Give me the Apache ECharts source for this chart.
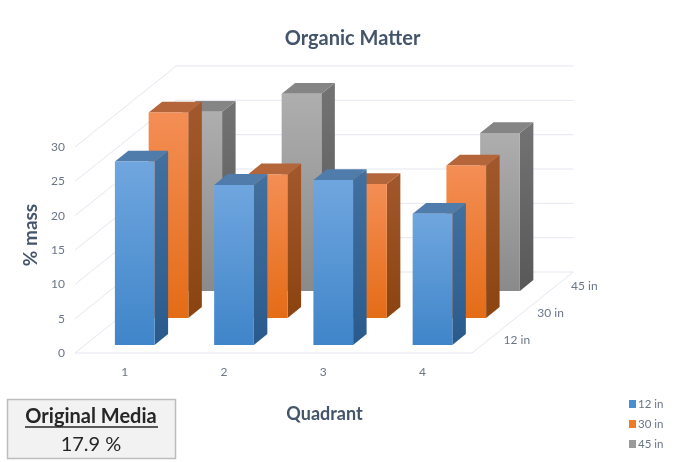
<!DOCTYPE html>
<html>
<head>
<meta charset="utf-8">
<style>html,body{margin:0;padding:0;background:#fff}#chart{width:674px;height:462px}</style>
<script src="https://cdn.jsdelivr.net/npm/echarts@6/dist/echarts.min.js"></script>
</head>
<body>
<div id="chart"></div>
<script>
// Organic matter (% mass) by quadrant and sampling depth
const quadrants = ['1', '2', '3', '4'];
const depths = ['12 in', '30 in', '45 in'];
const massTicks = [0, 5, 10, 15, 20, 25, 30];
const mass12in = [26.7, 23.3, 24.0, 19.1];
const mass30in = [29.9, 20.9, 19.5, 22.2];
const mass45in = [26.1, 28.7, null, 23.0];
const originalMedia = '17.9 %';

// Oblique projection: screen shift for one depth row, and bar proportions
const ROW_DX = 33.75, ROW_DY = -27;
const BAR_WIDTH = 0.4, BAR_DEPTH = 0.4;
const FONT = 'Lato, "Noto Sans", sans-serif';
const INK = '#44546a', TICK = '#6a7587', WALL = '#e4e7f0';

const palette = {
  '12 in': { front: ['#70a6df', '#3f85c9'], side: ['#42709f', '#2a5a8c'], top: '#4f7cab', key: '#4a8fd3' },
  '30 in': { front: ['#f48e55', '#e46c17'], side: ['#a2582c', '#8b4410'], top: '#b5653a', key: '#ee7b25' },
  '45 in': { front: ['#aeaeae', '#8a8a8a'], side: ['#737373', '#585858'], top: '#858585', key: '#9a9a9a' }
};

const vertical = (c) => ({ type: 'linear', x: 0, y: 0, x2: 0, y2: 1,
  colorStops: [{ offset: 0, color: c[0] }, { offset: 1, color: c[1] }] });

// One box: front face, side face and lid, pushed back to its depth row
function barRenderer(row, colors) {
  return function (params, api) {
    const value = api.value(1);
    if (value == null || isNaN(value)) return null;
    const band = api.size([1, 0])[0];
    const base = api.coord([api.value(0), 0]);
    const peak = api.coord([api.value(0), value]);
    const w = band * BAR_WIDTH;
    const shift = row + (1 - BAR_DEPTH) / 2;
    const x = base[0] - w / 2 + ROW_DX * shift;
    const yBottom = base[1] + ROW_DY * shift;
    const yTop = peak[1] + ROW_DY * shift;
    const dx = ROW_DX * BAR_DEPTH, dy = ROW_DY * BAR_DEPTH;
    return {
      type: 'group', silent: true,
      children: [
        { type: 'polygon', shape: { points: [[x + w, yTop], [x + w + dx, yTop + dy], [x + w + dx, yBottom + dy], [x + w, yBottom]] },
          style: { fill: vertical(colors.side) } },
        { type: 'polygon', shape: { points: [[x, yTop], [x + dx, yTop + dy], [x + w + dx, yTop + dy], [x + w, yTop]] },
          style: { fill: colors.top } },
        { type: 'rect', shape: { x: x, y: yTop, width: w, height: yBottom - yTop },
          style: { fill: vertical(colors.front) } }
      ]
    };
  };
}

// Left wall, back wall and floor edges, one run per value tick
function wallRenderer(params, api) {
  const band = api.size([1, 0])[0];
  const left = api.coord([0, api.value(0)]);
  const x0 = left[0] - band / 2, y0 = left[1];
  const x1 = x0 + band * quadrants.length;
  const bx = ROW_DX * depths.length, by = ROW_DY * depths.length;
  const children = [{
    type: 'polyline',
    shape: { points: [[x0, y0], [x0 + bx, y0 + by], [x1 + bx, y0 + by]] },
    style: { stroke: WALL, lineWidth: 1, fill: null }
  }];
  if (api.value(0) === 0) {
    children.push({
      type: 'polyline',
      shape: { points: [[x0, y0], [x1, y0], [x1 + bx, y0 + by]] },
      style: { stroke: WALL, lineWidth: 1, fill: null }
    });
  }
  return { type: 'group', silent: true, children: children };
}

// Depth axis labels along the right floor edge
function depthLabelRenderer(params, api) {
  const band = api.size([1, 0])[0];
  const origin = api.coord([quadrants.length - 1, 0]);
  const row = params.dataIndex;
  return {
    type: 'text', silent: true,
    style: {
      text: depths[row],
      x: origin[0] + band / 2 + ROW_DX * (row + 0.5) + 28,
      y: origin[1] + ROW_DY * (row + 0.5) + 0.5,
      align: 'center', verticalAlign: 'middle',
      font: '12px ' + FONT, fill: TICK
    }
  };
}

function barSeries(name, values, row) {
  return {
    type: 'custom', name: name,
    coordinateSystem: 'cartesian2d',
    encode: { x: 0, y: 1 },
    itemStyle: { color: palette[name].key },
    renderItem: barRenderer(row, palette[name]),
    data: values.map((v, i) => [i, v])
  };
}

const chart = echarts.init(document.getElementById('chart'), null, { renderer: 'canvas' });
chart.setOption({
  animation: false,
  backgroundColor: '#ffffff',
  textStyle: { fontFamily: FONT },
  title: {
    text: 'Organic Matter', left: 347.5, top: 24, textAlign: 'center',
    textStyle: { color: INK, fontFamily: FONT, fontWeight: 'bold', fontSize: 20 }
  },
  legend: {
    data: depths, orient: 'vertical', left: 624, top: 393,
    itemWidth: 7, itemHeight: 8, itemGap: 8, icon: 'rect',
    textStyle: { color: TICK, fontSize: 11.5, fontFamily: FONT, padding: [0, 0, 0, -3] }
  },
  grid: { left: 75, top: 147, width: 397, height: 206 },
  xAxis: {
    type: 'category', data: quadrants,
    name: 'Quadrant', nameLocation: 'middle', nameGap: 52,
    nameTextStyle: { color: INK, fontFamily: FONT, fontWeight: 'bold', fontSize: 18, padding: [0, 0, 0, 102] },
    axisLine: { show: false }, axisTick: { show: false },
    axisLabel: { color: TICK, fontSize: 12, fontFamily: FONT, margin: 13 }
  },
  yAxis: {
    type: 'value', min: 0, max: 30, interval: 5,
    name: '% mass', nameLocation: 'middle', nameGap: 35,
    nameTextStyle: { color: INK, fontFamily: FONT, fontWeight: 'bold', fontSize: 19, padding: [0, 0, 0, 30] },
    axisLine: { show: false }, axisTick: { show: false }, splitLine: { show: false },
    axisLabel: { color: TICK, fontSize: 12, fontFamily: FONT, margin: 10 }
  },
  series: [
    { type: 'custom', name: 'walls', coordinateSystem: 'cartesian2d', encode: { y: 0 },
      renderItem: wallRenderer, data: massTicks.map((t) => [t]) },
    { type: 'custom', name: 'depth axis', coordinateSystem: 'cartesian2d',
      renderItem: depthLabelRenderer, data: depths.map((d) => [0, 0]), encode: { x: 0, y: 1 } },
    barSeries('45 in', mass45in, 2),
    barSeries('30 in', mass30in, 1),
    barSeries('12 in', mass12in, 0)
  ],
  graphic: [
    { type: 'rect', silent: true, shape: { x: 7.5, y: 399.5, width: 168, height: 59 },
      style: { fill: '#f2f2f2', stroke: '#bdbdbd', lineWidth: 1.5 } },
    { type: 'text', silent: true,
      style: { text: 'Original Media', x: 91, y: 417, align: 'center', verticalAlign: 'middle',
               font: 'bold 20px ' + FONT, fill: '#262626' } },
    { type: 'line', silent: true, shape: { x1: 25, y1: 427, x2: 158, y2: 427 },
      style: { stroke: '#262626', lineWidth: 1.5 } },
    { type: 'text', silent: true,
      style: { text: originalMedia, x: 91, y: 445, align: 'center', verticalAlign: 'middle',
               font: '20px ' + FONT, fill: '#262626' } }
  ]
});
</script>
</body>
</html>
